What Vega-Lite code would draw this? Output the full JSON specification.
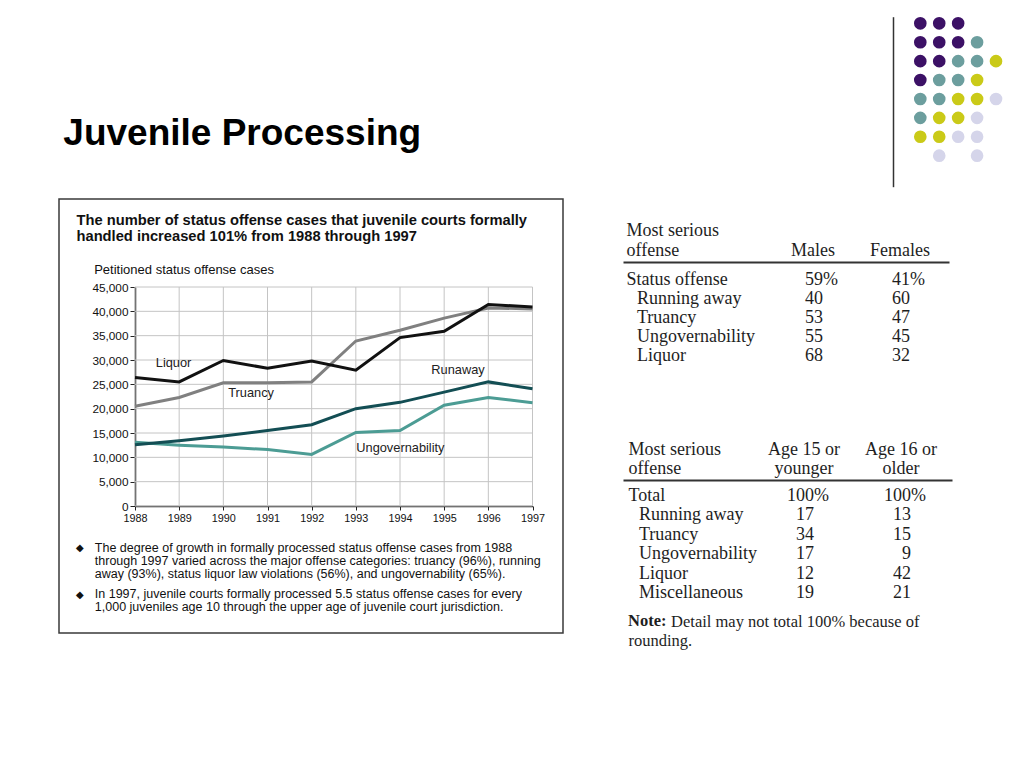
{
  "$schema": "https://vega.github.io/schema/vega-lite/v6.json",
  "background": "white",
  "padding": {"left": 58, "top": 0, "right": 0, "bottom": 0},
  "config": {
    "view": {"stroke": null},
    "axis": {"grid": false, "labelFont": "Liberation Sans", "titleFont": "Liberation Sans"},
    "title": {"font": "Liberation Sans"}
  },
  "resolve": {"scale": {"color": "independent"}},
  "datasets": {
    "dots": [
      {"col": 1, "row": 1, "c": "purple"}, {"col": 2, "row": 1, "c": "purple"}, {"col": 3, "row": 1, "c": "purple"},
      {"col": 1, "row": 2, "c": "purple"}, {"col": 2, "row": 2, "c": "purple"}, {"col": 3, "row": 2, "c": "purple"}, {"col": 4, "row": 2, "c": "teal"},
      {"col": 1, "row": 3, "c": "purple"}, {"col": 2, "row": 3, "c": "purple"}, {"col": 3, "row": 3, "c": "teal"}, {"col": 4, "row": 3, "c": "teal"}, {"col": 5, "row": 3, "c": "yellow"},
      {"col": 1, "row": 4, "c": "purple"}, {"col": 2, "row": 4, "c": "teal"}, {"col": 3, "row": 4, "c": "teal"}, {"col": 4, "row": 4, "c": "yellow"},
      {"col": 1, "row": 5, "c": "teal"}, {"col": 2, "row": 5, "c": "teal"}, {"col": 3, "row": 5, "c": "yellow"}, {"col": 4, "row": 5, "c": "yellow"}, {"col": 5, "row": 5, "c": "lavender"},
      {"col": 1, "row": 6, "c": "teal"}, {"col": 2, "row": 6, "c": "yellow"}, {"col": 3, "row": 6, "c": "yellow"}, {"col": 4, "row": 6, "c": "lavender"},
      {"col": 1, "row": 7, "c": "yellow"}, {"col": 2, "row": 7, "c": "yellow"}, {"col": 3, "row": 7, "c": "lavender"}, {"col": 4, "row": 7, "c": "lavender"},
      {"col": 2, "row": 8, "c": "lavender"}, {"col": 4, "row": 8, "c": "lavender"}
    ],
    "cases": [
      {"series": "Truancy", "year": 1988, "cases": 20500}, {"series": "Truancy", "year": 1989, "cases": 22300}, {"series": "Truancy", "year": 1990, "cases": 25300}, {"series": "Truancy", "year": 1991, "cases": 25300}, {"series": "Truancy", "year": 1992, "cases": 25500}, {"series": "Truancy", "year": 1993, "cases": 33900}, {"series": "Truancy", "year": 1994, "cases": 36100}, {"series": "Truancy", "year": 1995, "cases": 38600}, {"series": "Truancy", "year": 1996, "cases": 40700}, {"series": "Truancy", "year": 1997, "cases": 40500},
      {"series": "Ungovernability", "year": 1988, "cases": 13100}, {"series": "Ungovernability", "year": 1989, "cases": 12500}, {"series": "Ungovernability", "year": 1990, "cases": 12100}, {"series": "Ungovernability", "year": 1991, "cases": 11600}, {"series": "Ungovernability", "year": 1992, "cases": 10600}, {"series": "Ungovernability", "year": 1993, "cases": 15100}, {"series": "Ungovernability", "year": 1994, "cases": 15500}, {"series": "Ungovernability", "year": 1995, "cases": 20700}, {"series": "Ungovernability", "year": 1996, "cases": 22300}, {"series": "Ungovernability", "year": 1997, "cases": 21200},
      {"series": "Runaway", "year": 1988, "cases": 12600}, {"series": "Runaway", "year": 1989, "cases": 13400}, {"series": "Runaway", "year": 1990, "cases": 14400}, {"series": "Runaway", "year": 1991, "cases": 15500}, {"series": "Runaway", "year": 1992, "cases": 16700}, {"series": "Runaway", "year": 1993, "cases": 20000}, {"series": "Runaway", "year": 1994, "cases": 21300}, {"series": "Runaway", "year": 1995, "cases": 23400}, {"series": "Runaway", "year": 1996, "cases": 25500}, {"series": "Runaway", "year": 1997, "cases": 24100},
      {"series": "Liquor", "year": 1988, "cases": 26400}, {"series": "Liquor", "year": 1989, "cases": 25500}, {"series": "Liquor", "year": 1990, "cases": 29900}, {"series": "Liquor", "year": 1991, "cases": 28300}, {"series": "Liquor", "year": 1992, "cases": 29800}, {"series": "Liquor", "year": 1993, "cases": 27900}, {"series": "Liquor", "year": 1994, "cases": 34600}, {"series": "Liquor", "year": 1995, "cases": 35900}, {"series": "Liquor", "year": 1996, "cases": 41400}, {"series": "Liquor", "year": 1997, "cases": 40900}
    ],
    "gridY": [{"v": 0}, {"v": 5000}, {"v": 10000}, {"v": 15000}, {"v": 20000}, {"v": 25000}, {"v": 30000}, {"v": 35000}, {"v": 40000}, {"v": 45000}],
    "labels": [
      {"label": "Liquor", "year": 1988.47, "cases": 29450},
      {"label": "Truancy", "year": 1990.11, "cases": 23300},
      {"label": "Runaway", "year": 1994.71, "cases": 27900},
      {"label": "Ungovernability", "year": 1993.01, "cases": 12000}
    ],
    "t1": [
      {"offense": "Status offense", "sex": "Males", "pct": 59}, {"offense": "Status offense", "sex": "Females", "pct": 41},
      {"offense": "Running away", "sex": "Males", "pct": 40}, {"offense": "Running away", "sex": "Females", "pct": 60},
      {"offense": "Truancy", "sex": "Males", "pct": 53}, {"offense": "Truancy", "sex": "Females", "pct": 47},
      {"offense": "Ungovernability", "sex": "Males", "pct": 55}, {"offense": "Ungovernability", "sex": "Females", "pct": 45},
      {"offense": "Liquor", "sex": "Males", "pct": 68}, {"offense": "Liquor", "sex": "Females", "pct": 32}
    ],
    "t2": [
      {"offense": "Total", "age": "Age 15 or younger", "pct": 100}, {"offense": "Total", "age": "Age 16 or older", "pct": 100},
      {"offense": "Running away", "age": "Age 15 or younger", "pct": 17}, {"offense": "Running away", "age": "Age 16 or older", "pct": 13},
      {"offense": "Truancy", "age": "Age 15 or younger", "pct": 34}, {"offense": "Truancy", "age": "Age 16 or older", "pct": 15},
      {"offense": "Ungovernability", "age": "Age 15 or younger", "pct": 17}, {"offense": "Ungovernability", "age": "Age 16 or older", "pct": 9},
      {"offense": "Liquor", "age": "Age 15 or younger", "pct": 12}, {"offense": "Liquor", "age": "Age 16 or older", "pct": 42},
      {"offense": "Miscellaneous", "age": "Age 15 or younger", "pct": 19}, {"offense": "Miscellaneous", "age": "Age 16 or older", "pct": 21}
    ]
  },
  "spacing": 8,
  "vconcat": [
    {
      "width": 966,
      "height": 190,
      "data": {"name": "dots"},
      "title": {"text": "Juvenile Processing", "orient": "bottom", "anchor": "start", "frame": "group", "offset": -45, "baseline": "alphabetic", "dx": 4.3, "fontSize": 37, "fontWeight": "bold", "color": "#000000"},
      "mark": {"type": "circle", "size": 160, "opacity": 1},
      "encoding": {
        "x": {"field": "col", "type": "quantitative", "scale": {"domain": [1, 5], "range": [861.3, 937], "nice": false, "zero": false}, "axis": null},
        "y": {"field": "row", "type": "quantitative", "scale": {"domain": [0.651, 9.639], "range": [16.7, 186.7], "nice": false, "zero": false},
              "axis": {"orient": "left", "offset": -834, "domain": true, "domainColor": "#333333", "domainWidth": 1.5, "ticks": false, "labels": false, "grid": false, "title": null}},
        "color": {"field": "c", "type": "nominal", "scale": {"domain": ["purple", "teal", "yellow", "lavender"], "range": ["#3c1166", "#6c9e9e", "#caca18", "#d5d5ea"]}, "legend": null}
      }
    },
    {
      "spacing": 59,
      "resolve": {"scale": {"color": "independent"}},
      "hconcat": [
        {
          "width": 504,
          "height": 434,
          "view": {"stroke": "#3a3a3a", "strokeWidth": 1.5},
          "resolve": {"axis": {"x": "independent", "y": "independent"}},
          "layer": [
            {
              "data": {"name": "gridY"},
              "mark": {"type": "rule", "color": "#c4c4c4", "strokeWidth": 1},
              "encoding": {
                "y": {"field": "v", "type": "quantitative", "axis": null, "scale": {"domain": [0, 45000], "range": [307, 88], "nice": false, "zero": false}},
                "x": {"datum": 1988, "type": "quantitative", "axis": null, "scale": {"domain": [1988, 1997], "range": [76, 473.5], "nice": false, "zero": false}},
                "x2": {"datum": 1997}
              }
            },
            {
              "data": {"name": "cases"},
              "transform": [{"filter": "datum.series == 'Liquor'"}],
              "mark": {"type": "rule", "color": "#c4c4c4", "strokeWidth": 1},
              "encoding": {
                "x": {"field": "year", "type": "quantitative", "scale": {"domain": [1988, 1997], "range": [76, 473.5], "nice": false, "zero": false},
                      "axis": {"orient": "top", "offset": 0, "labels": false, "ticks": false, "domain": false, "grid": false,
                               "title": ["The number of status offense cases that juvenile courts formally", "handled increased 101% from 1988 through 1997"],
                               "titleFontSize": 14.7, "titleFontWeight": "bold", "titleColor": "#111111", "titleAlign": "left", "titleBaseline": "alphabetic", "titleAngle": 0, "titleX": 17, "titleY": 25, "titleLineHeight": 16}},
                "y": {"datum": 0, "type": "quantitative", "axis": null, "scale": {"domain": [0, 45000], "range": [307, 88], "nice": false, "zero": false}},
                "y2": {"datum": 45000}
              }
            },
            {
              "data": {"name": "cases"},
              "mark": {"type": "line", "strokeWidth": 3},
              "encoding": {
                "x": {"field": "year", "type": "quantitative", "scale": {"domain": [1988, 1997], "range": [76, 473.5], "nice": false, "zero": false},
                      "axis": {"orient": "bottom", "offset": -127, "values": [1988, 1989, 1990, 1991, 1992, 1993, 1994, 1995, 1996, 1997], "format": "d", "labelFontSize": 10.8, "labelColor": "#111111", "labelFlush": false, "labelOverlap": false, "tickSize": 4, "tickColor": "#222222", "domainColor": "#222222", "domainWidth": 1.5, "labelPadding": 2,
                               "title": ["The degree of growth in formally processed status offense cases from 1988", "through 1997 varied across the major offense categories: truancy (96%), running", "away (93%), status liquor law violations (56%), and ungovernability (65%)."],
                               "titleFontSize": 12.5, "titleFontWeight": "normal", "titleColor": "#111111", "titleAlign": "left", "titleBaseline": "alphabetic", "titleAngle": 0, "titleX": 35.3, "titleY": 45, "titleLineHeight": 13.3}},
                "y": {"field": "cases", "type": "quantitative", "scale": {"domain": [0, 45000], "range": [307, 88], "nice": false, "zero": false},
                      "axis": {"orient": "left", "offset": -76, "values": [0, 5000, 10000, 15000, 20000, 25000, 30000, 35000, 40000, 45000], "format": ",d", "labelFontSize": 11.8, "labelColor": "#111111", "labelFlush": false, "labelOverlap": false, "tickSize": 5, "tickColor": "#222222", "domainColor": "#222222", "domainWidth": 1.5, "labelPadding": 2,
                               "title": "Petitioned status offense cases", "titleFontSize": 13, "titleFontWeight": "normal", "titleColor": "#111111", "titleAngle": 0, "titleAlign": "left", "titleBaseline": "alphabetic", "titleX": -41.3, "titleY": 74.7}},
                "color": {"field": "series", "type": "nominal", "scale": {"domain": ["Truancy", "Ungovernability", "Runaway", "Liquor"], "range": ["#808080", "#4c9c94", "#134e54", "#111111"]}, "legend": null}
              }
            },
            {
              "data": {"name": "labels"},
              "mark": {"type": "text", "align": "left", "baseline": "middle", "font": "Liberation Sans", "fontSize": 12.8, "color": "#222222"},
              "encoding": {
                "x": {"field": "year", "type": "quantitative", "scale": {"domain": [1988, 1997], "range": [76, 473.5], "nice": false, "zero": false},
                      "axis": {"orient": "bottom", "offset": -127, "labels": false, "ticks": false, "domain": false, "grid": false,
                               "title": ["In 1997, juvenile courts formally processed 5.5 status offense cases for every", "1,000 juveniles age 10 through the upper age of juvenile court jurisdiction."],
                               "titleFontSize": 12.5, "titleFontWeight": "normal", "titleColor": "#111111", "titleAlign": "left", "titleBaseline": "alphabetic", "titleAngle": 0, "titleX": 35.3, "titleY": 91.7, "titleLineHeight": 13.3}},
                "y": {"field": "cases", "type": "quantitative", "scale": {"domain": [0, 45000], "range": [307, 88], "nice": false, "zero": false},
                      "axis": {"orient": "left", "offset": -76, "labels": false, "ticks": false, "domain": false, "grid": false,
                               "title": ["◆", "◆"], "titleFont": "DejaVu Sans", "titleFontSize": 10, "titleFontWeight": "normal", "titleColor": "#111111", "titleAngle": 0, "titleAlign": "center", "titleBaseline": "alphabetic", "titleX": -55.7, "titleY": 351.5, "titleLineHeight": 46.7}},
                "text": {"field": "label", "type": "nominal"}
              }
            }
          ]
        },
        {
          "spacing": 0,
          "vconcat": [
            {
              "width": 326,
              "height": 180,
              "data": {"name": "t1"},
              "layer": [
                {
                  "mark": {"type": "text", "font": "Liberation Serif", "fontSize": 18, "align": "right", "baseline": "middle", "dx": 10, "color": "#1e1e1e"},
                  "encoding": {
                    "x": {"field": "sex", "type": "nominal", "sort": null, "scale": {"type": "band", "domain": ["Males", "Females"], "paddingInner": 0, "paddingOuter": 0.8736, "align": 0.964},
                          "axis": {"orient": "top", "offset": -63, "domain": true, "domainColor": "#333333", "domainWidth": 2, "ticks": false, "tickSize": 0, "labelPadding": 7, "labelBaseline": "alphabetic", "labelAngle": 0, "labelFont": "Liberation Serif", "labelFontSize": 18, "labelColor": "#1e1e1e", "title": null, "grid": false}},
                    "y": {"field": "offense", "type": "nominal", "sort": null, "scale": {"type": "band", "domain": ["Status offense", "Running away", "Truancy", "Ungovernability", "Liquor"], "range": [71.5, 166.5], "paddingInner": 0, "paddingOuter": 0},
                          "axis": {"orient": "left", "domain": false, "ticks": false, "tickSize": 0, "grid": false, "labelAlign": "left", "labelPadding": -3, "labelLimit": 300, "labelFont": "Liberation Serif", "labelFontSize": 18, "labelColor": "#1e1e1e",
                                   "labelExpr": "datum.value == 'Status offense' ? datum.value : '\u200b\u00a0\u00a0\u200a' + datum.value",
                                   "title": ["Most serious", "offense"], "titleAngle": 0, "titleAlign": "left", "titleBaseline": "alphabetic", "titleX": 3, "titleY": 36, "titleLineHeight": 20, "titleFont": "Liberation Serif", "titleFontSize": 18, "titleFontWeight": "normal", "titleColor": "#1e1e1e"}},
                    "text": {"field": "pct", "type": "quantitative"}
                  }
                },
                {
                  "transform": [{"filter": "datum.offense == 'Status offense'"}],
                  "mark": {"type": "text", "font": "Liberation Serif", "fontSize": 18, "align": "left", "baseline": "middle", "dx": 10, "color": "#1e1e1e"},
                  "encoding": {
                    "x": {"field": "sex", "type": "nominal", "sort": null},
                    "y": {"field": "offense", "type": "nominal", "sort": null},
                    "text": {"value": "%"}
                  }
                }
              ]
            },
            {
              "width": 329,
              "height": 290,
              "data": {"name": "t2"},
              "title": {"text": "Note:", "orient": "bottom", "anchor": "start", "frame": "group", "offset": -43, "baseline": "alphabetic", "dx": 5, "font": "Liberation Serif", "fontSize": 16.5, "fontWeight": "bold", "color": "#1e1e1e"},
              "resolve": {"axis": {"x": "independent"}},
              "layer": [
                {
                  "mark": {"type": "text", "font": "Liberation Serif", "fontSize": 18, "align": "right", "baseline": "middle", "dx": 10, "color": "#1e1e1e"},
                  "encoding": {
                    "x": {"field": "age", "type": "nominal", "sort": null, "scale": {"type": "band", "domain": ["Age 15 or younger", "Age 16 or older"], "paddingInner": 0, "paddingOuter": 0.696, "align": 0.981},
                          "axis": {"orient": "top", "offset": -101, "domain": true, "domainColor": "#333333", "domainWidth": 2, "ticks": false, "tickSize": 0, "labelPadding": 26, "labelBaseline": "alphabetic", "labelAngle": 0, "labelLineHeight": 19, "labelFont": "Liberation Serif", "labelFontSize": 18, "labelColor": "#1e1e1e",
                                   "labelExpr": "datum.value == 'Age 15 or younger' ? ['Age 15 or', 'younger'] : ['Age 16 or', 'older']",
                                   "grid": false,
                                   "title": "Detail may not total 100% because of",
                                   "titleAngle": 0, "titleAlign": "left", "titleBaseline": "alphabetic", "titleX": 47.6, "titleY": 146, "titleFont": "Liberation Serif", "titleFontSize": 16.5, "titleFontWeight": "normal", "titleColor": "#1e1e1e"}},
                    "y": {"field": "offense", "type": "nominal", "sort": null, "scale": {"type": "band", "domain": ["Total", "Running away", "Truancy", "Ungovernability", "Liquor", "Miscellaneous"], "range": [107.3, 223.7], "paddingInner": 0, "paddingOuter": 0},
                          "axis": {"orient": "left", "domain": false, "ticks": false, "tickSize": 0, "grid": false, "labelAlign": "left", "labelPadding": -5, "labelLimit": 300, "labelFont": "Liberation Serif", "labelFontSize": 18, "labelColor": "#1e1e1e",
                                   "labelExpr": "datum.value == 'Total' ? datum.value : '\u200b\u00a0\u00a0\u200a' + datum.value",
                                   "title": ["Most serious", "offense"], "titleAngle": 0, "titleAlign": "left", "titleBaseline": "alphabetic", "titleX": 5, "titleY": 75, "titleLineHeight": 19, "titleFont": "Liberation Serif", "titleFontSize": 18, "titleFontWeight": "normal", "titleColor": "#1e1e1e"}},
                    "text": {"field": "pct", "type": "quantitative"}
                  }
                },
                {
                  "transform": [{"filter": "datum.offense == 'Total'"}],
                  "mark": {"type": "text", "font": "Liberation Serif", "fontSize": 18, "align": "left", "baseline": "middle", "dx": 10, "color": "#1e1e1e"},
                  "encoding": {
                    "x": {"field": "age", "type": "nominal", "sort": null,
                          "axis": {"orient": "bottom", "offset": 0, "labels": false, "ticks": false, "domain": false, "grid": false,
                                   "title": "rounding.", "titleAngle": 0, "titleAlign": "left", "titleBaseline": "alphabetic", "titleX": 5, "titleY": -23.5, "titleFont": "Liberation Serif", "titleFontSize": 16.5, "titleFontWeight": "normal", "titleColor": "#1e1e1e"}},
                    "y": {"field": "offense", "type": "nominal", "sort": null},
                    "text": {"value": "%"}
                  }
                }
              ]
            }
          ]
        }
      ]
    }
  ]
}
